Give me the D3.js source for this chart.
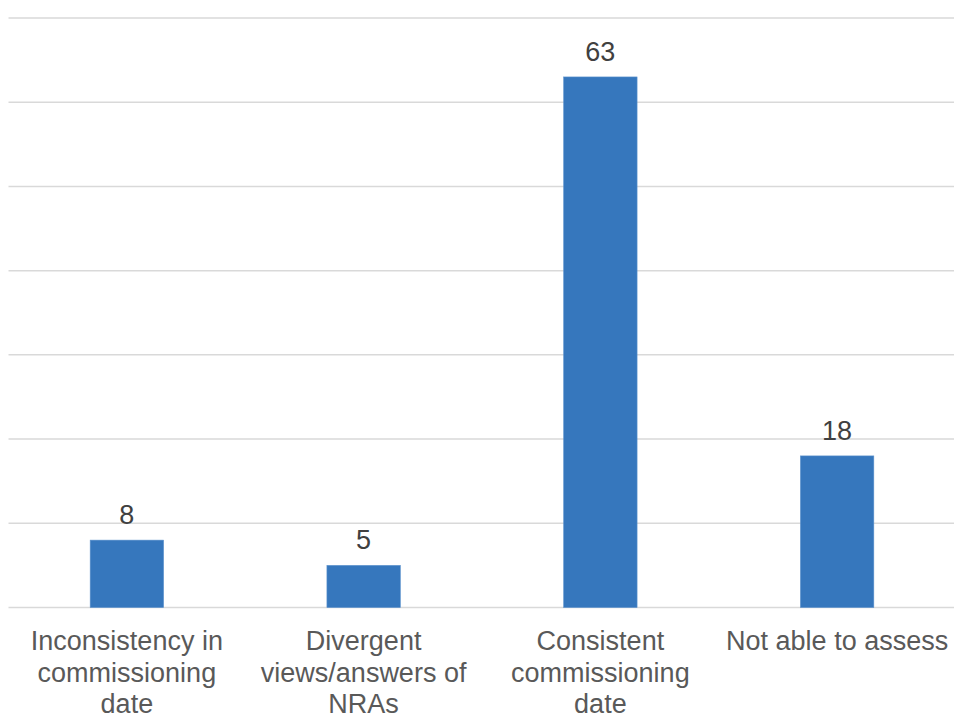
<!DOCTYPE html>
<html>
<head>
<meta charset="utf-8">
<script src="https://cdn.jsdelivr.net/npm/d3@7"></script>
<style>
  html, body { margin: 0; padding: 0; background: #fff; }
  svg { display: block; }
</style>
</head>
<body>
<svg id="chart" width="954" height="715"></svg>
<script>
// Assessment outcome categories (each label split into display lines)
const categories = [
  ["Inconsistency in", "commissioning", "date"],
  ["Divergent", "views/answers of", "NRAs"],
  ["Consistent", "commissioning", "date"],
  ["Not able to assess"]
];
const values = [8, 5, 63, 18];
const gridTicks = [0, 10, 20, 30, 40, 50, 60, 70];

const svg = d3.select("#chart");
const margin = { left: 8.5, right: -1.5, top: 18, bottom: 107.5 };
const width = 954, height = 715;

const keys = categories.map((c, i) => i);
const x = d3.scaleBand()
  .domain(keys)
  .range([margin.left, width - margin.right])
  .paddingInner(0.69)
  .paddingOuter(0.345);

const y = d3.scaleLinear()
  .domain([0, 70])
  .range([height - margin.bottom, margin.top]);

// Horizontal gridlines
svg.append("g")
  .selectAll("line")
  .data(gridTicks)
  .join("line")
  .attr("x1", margin.left)
  .attr("x2", width)
  .attr("y1", d => y(d))
  .attr("y2", d => y(d))
  .attr("stroke", "#d9d9d9")
  .attr("stroke-width", 1.5);

// Bars
svg.append("g")
  .selectAll("rect")
  .data(values)
  .join("rect")
  .attr("x", (d, i) => x(i))
  .attr("width", x.bandwidth())
  .attr("y", d => y(d))
  .attr("height", d => y(0) - y(d))
  .attr("fill", "#3677bd")
  .attr("stroke", "#5a90cc")
  .attr("stroke-width", 0.6);

// Value labels above bars
svg.append("g")
  .selectAll("text")
  .data(values)
  .join("text")
  .attr("x", (d, i) => x(i) + x.bandwidth() / 2)
  .attr("y", d => y(d) - 16)
  .attr("text-anchor", "middle")
  .attr("font-family", "Liberation Sans, Arial, sans-serif")
  .attr("font-size", 27)
  .attr("fill", "#404040")
  .text(d => d);

// Category labels below the baseline
const labels = svg.append("g")
  .selectAll("text")
  .data(categories)
  .join("text")
  .attr("x", (d, i) => x(i) + x.bandwidth() / 2)
  .attr("y", y(0) + 42.5)
  .attr("text-anchor", "middle")
  .attr("font-family", "Liberation Sans, Arial, sans-serif")
  .attr("font-size", 27)
  .attr("fill", "#595959");

labels.selectAll("tspan")
  .data((d, i) => d.map(line => ({ line, i })))
  .join("tspan")
  .attr("x", d => x(d.i) + x.bandwidth() / 2)
  .attr("dy", (d, j) => j === 0 ? 0 : 31.5)
  .text(d => d.line);
</script>
</body>
</html>
